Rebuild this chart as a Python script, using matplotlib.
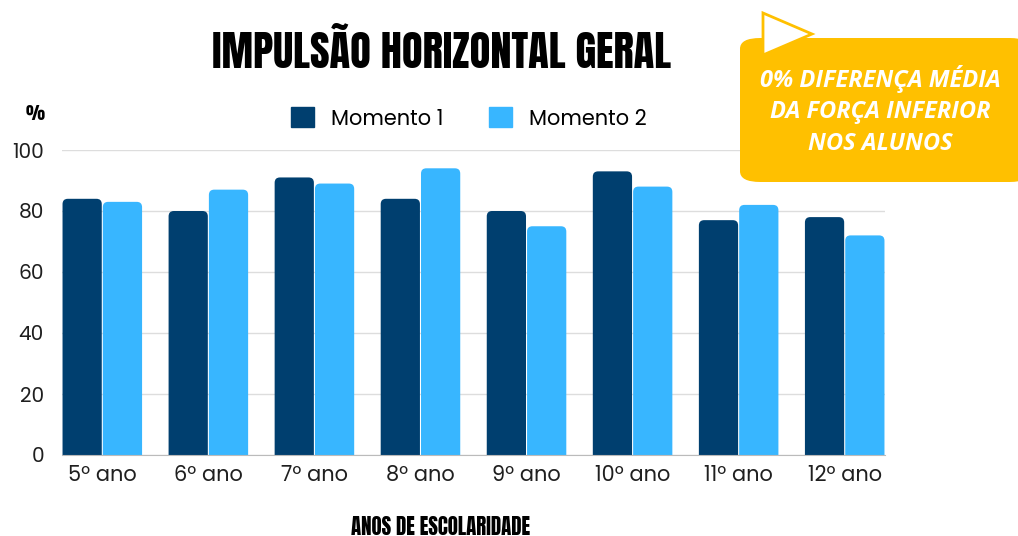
import matplotlib
matplotlib.use("Agg")
import matplotlib.pyplot as plt
from matplotlib.patches import FancyBboxPatch, Polygon, Patch
import numpy as np

categories = ["5º ano", "6º ano", "7º ano", "8º ano", "9º ano", "10º ano", "11º ano", "12º ano"]
momento1 = [84, 80, 91, 84, 80, 93, 77, 78]
momento2 = [83, 87, 89, 94, 75, 88, 82, 72]
yticks = [0, 20, 40, 60, 80, 100]

DARK = "#003F6F"
LIGHT = "#38B6FF"
TXT = "#1f1f1f"
COND = ["Anton", "DejaVu Sans"]
BODY = ["Poppins", "DejaVu Sans"]

fig = plt.figure(figsize=(10.18, 5.36), dpi=100)
ax = fig.add_axes([62/1018, 1-455/536, (885-62)/1018, (455-150)/536])

x = np.arange(len(categories))
w = 0.37
b1 = ax.bar(x - 0.19, momento1, width=w, color=DARK, zorder=3)
b2 = ax.bar(x + 0.19, momento2, width=w, color=LIGHT, zorder=3)

ax.set_xlim(-0.38, 7.38)
ax.set_ylim(0, 100)

# rounded-top bars built from the bar geometry
asp = (100 / 305) / (7.76 / 823)
for bars, col in [(b1, DARK), (b2, LIGHT)]:
    for r in bars:
        r.set_visible(False)
        fb = FancyBboxPatch((r.get_x(), -5), r.get_width(), r.get_height() + 5,
                            boxstyle="round,pad=0,rounding_size=0.05", mutation_aspect=asp,
                            facecolor=col, edgecolor="none", zorder=3)
        ax.add_patch(fb)

ax.set_yticks(yticks)
ax.set_xticks(x)
ax.set_xticklabels(categories, family=BODY, fontsize=15, color=TXT)
for lab in ax.get_yticklabels():
    lab.set_family(BODY); lab.set_fontsize(14.5); lab.set_color(TXT)
ax.tick_params(length=0, pad=7)
ax.tick_params(axis="y", pad=13)
ax.grid(axis="y", color="#dddddd", linewidth=1, zorder=0)
for s in ["top", "right", "left"]:
    ax.spines[s].set_visible(False)
ax.spines["bottom"].set_color("#bbbbbb")
ax.spines["bottom"].set_zorder(4)

fig.text(442/1018, 1-50/536, "IMPULSÃO HORIZONTAL GERAL", ha="center", va="center",
         family=COND, fontsize=30.5, color="black")
fig.text(35/1018, 1-113/536, "%", ha="center", va="center",
         family=COND, fontsize=13, color="black")
fig.text(441/1018, 1-527/536, "ANOS DE ESCOLARIDADE", ha="center", va="center",
         family=COND, fontsize=15, color="black")

handles = [Patch(color=DARK, label="Momento 1"), Patch(color=LIGHT, label="Momento 2")]
fig.legend(handles=handles, loc="center", bbox_to_anchor=(469/1018, 1-119/536), ncol=2,
           frameon=False, prop={"family": BODY, "size": 15}, handlelength=1.1,
           handleheight=1.1, columnspacing=2.2, handletextpad=0.8)

# callout
box = FancyBboxPatch((740/1018, 1-182/536), (1030-740)/1018, (182-38)/536,
                     boxstyle="round,pad=0,rounding_size=0.02", transform=fig.transFigure,
                     facecolor="#FFC000", edgecolor="none", zorder=5)
fig.patches.append(box)
tri = Polygon([(763/1018, 1-13/536), (763/1018, 1-55/536), (812/1018, 1-34/536)], closed=True,
              transform=fig.transFigure, facecolor="white", edgecolor="#FFC000", linewidth=2, zorder=6)
fig.patches.append(tri)
for yy, t in [(79, "0% DIFERENÇA MÉDIA"), (112, "DA FORÇA INFERIOR"), (144, "NOS ALUNOS")]:
    fig.text(880/1018, 1-yy/536, t, ha="center", va="center", family="Open Sans",
             style="italic", weight="bold", fontsize=17, color="white", zorder=7)

fig.savefig("out.png", dpi=100, facecolor="white")
